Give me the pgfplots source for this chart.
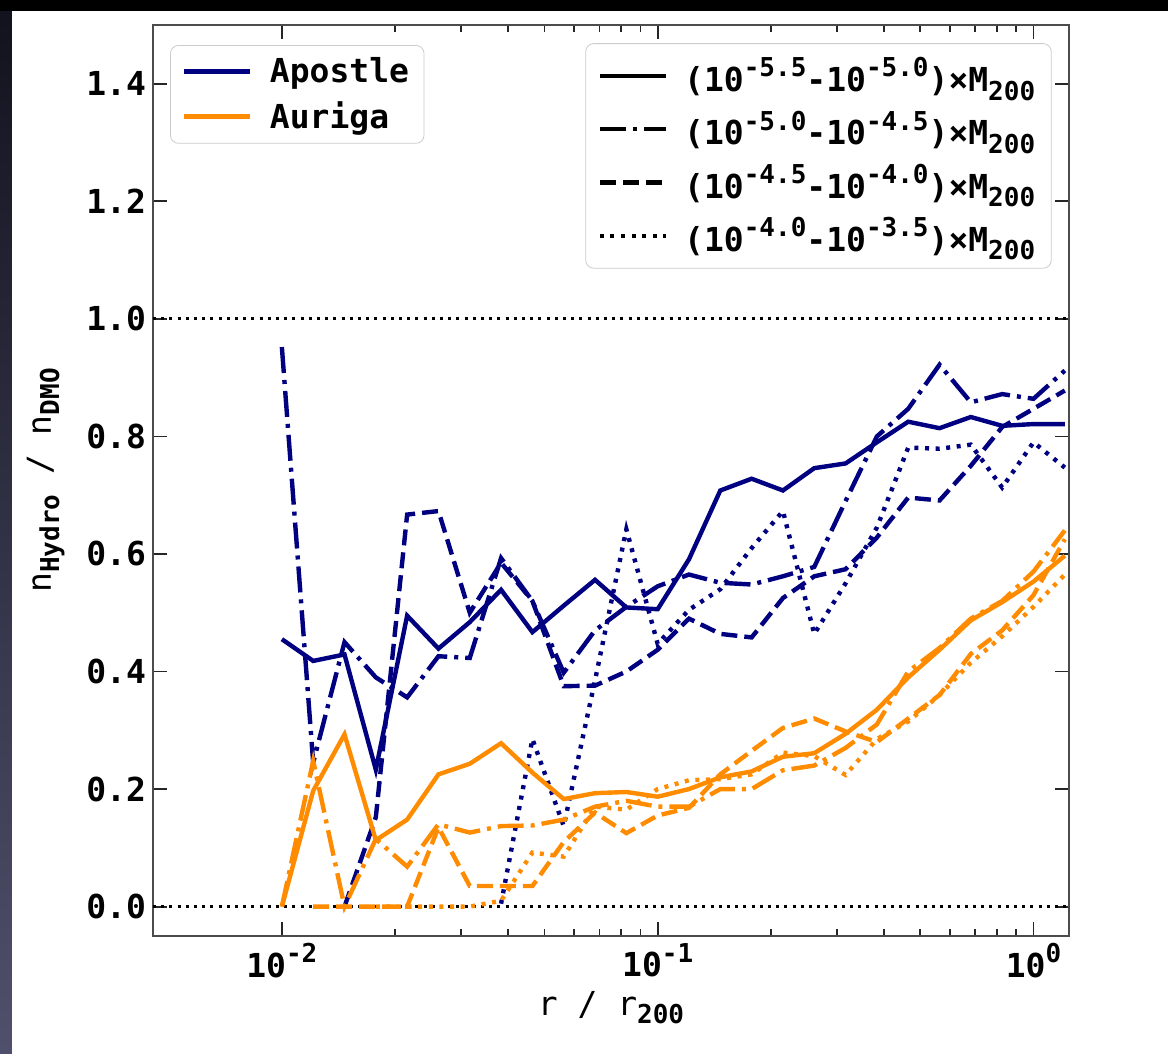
\documentclass[border=0pt]{standalone}
\usepackage{fontspec}
\setmainfont{DejaVu Sans Mono}
\usepackage{pgfplots}
\usepackage{pgfplotstable}
\pgfplotsset{compat=1.18}
\definecolor{apo}{RGB}{0,0,128}
\definecolor{aur}{RGB}{255,140,0}
\newcommand\bigf{\fontsize{16.5}{20}\selectfont}
\newcommand\supf[1]{\raisebox{0.45em}{\fontsize{13}{14}\selectfont #1}}
\newcommand\subf[1]{\raisebox{-0.25em}{\fontsize{13}{14}\selectfont #1}}
\tikzset{
  ls solid/.style={solid},
  ls dashdot/.style={dash pattern=on 13pt off 3.5pt on 2pt off 3.5pt},
  ls dashed/.style={dash pattern=on 8pt off 3.5pt},
  ls dotted/.style={dash pattern=on 2pt off 3.3pt},
}

% r/r200, Apostle (ap1..ap4) and Auriga (au1..au4) per mass bin
\pgfplotstableread{
r        ap1   ap2   ap3   ap4   au1   au2   au3   au4
0.010000 0.455 0.952 nan   nan   0.000 0.000 nan   nan
0.012115 0.418 0.245 nan   nan   0.197 0.248 0.000 nan
0.014678 0.429 0.450 0.000 nan   0.293 0.000 0.000 nan
0.017783 0.233 0.390 0.152 nan   0.113 0.115 0.000 0.000
0.021544 0.495 0.356 0.667 nan   0.148 0.068 0.000 0.000
0.026102 0.439 0.426 0.673 nan   0.225 0.140 0.135 0.000
0.031623 0.484 0.423 0.500 nan   0.243 0.126 0.035 0.000
0.038312 0.539 0.593 0.585 0.005 0.278 0.137 0.035 0.010
0.046416 0.467 0.520 0.520 0.285 0.228 0.138 0.035 0.092
0.056234 0.512 0.398 0.375 0.137 0.183 0.148 0.110 0.085
0.068129 0.556 0.470 0.376 0.385 0.193 0.170 0.160 0.170
0.082540 0.509 0.510 0.400 0.642 0.195 0.180 0.125 0.165
0.100000 0.506 0.545 0.437 0.447 0.187 0.170 0.155 0.200
0.121150 0.591 0.565 0.490 0.505 0.200 0.170 0.168 0.215
0.146780 0.708 0.551 0.464 0.540 0.220 0.200 0.225 0.217
0.177830 0.728 0.548 0.458 0.610 0.230 0.200 0.265 0.225
0.215440 0.708 0.562 0.525 0.673 0.255 0.232 0.304 0.262
0.261020 0.746 0.578 0.562 0.464 0.261 0.240 0.320 0.256
0.316230 0.754 0.690 0.574 0.550 0.294 0.270 0.298 0.224
0.383120 0.790 0.800 0.628 0.645 0.335 0.310 0.280 0.285
0.464160 0.825 0.847 0.696 0.781 0.390 0.400 0.320 0.315
0.562340 0.814 0.922 0.691 0.779 0.437 0.440 0.360 0.360
0.681290 0.833 0.858 0.750 0.786 0.487 0.490 0.430 0.415
0.825400 0.818 0.872 0.816 0.713 0.518 0.520 0.470 0.460
1.000000 0.821 0.864 0.847 0.790 0.553 0.570 0.530 0.510
1.211500 0.821 0.912 0.878 0.747 0.597 0.640 0.625 0.565
}\data

\begin{document}
\begin{tikzpicture}
% page background with the dark screenshot edge
\fill[white] (-76.5pt,-59pt) rectangle (507.5pt,468pt);
\shade[top color={rgb,255:red,18;green,18;blue,30}, bottom color={rgb,255:red,80;green,80;blue,108}]
  (-76.5pt,-59pt) rectangle (-70.5pt,468pt);
\fill[black] (-76.5pt,462.5pt) rectangle (507.5pt,468pt);

\begin{axis}[
  at={(0,0)}, anchor=south west,
  scale only axis, width=458pt, height=455.5pt,
  xmode=log, xmin=0.00454, xmax=1.243, ymin=-0.05, ymax=1.5,
  axis line style={black!70, line width=1.2pt},
  tick style={black!85, line width=0.9pt},
  major tick length=7pt, minor tick length=3.5pt,
  tick pos=both, tick align=inside,
  xtick={0.01,0.1,1},
  xticklabels={10\supf{-2},10\supf{-1},10\supf{0}},
  ytick={0,0.2,0.4,0.6,0.8,1.0,1.2,1.4},
  yticklabels={0.0,0.2,0.4,0.6,0.8,1.0,1.2,1.4},
  tick label style={font=\bigf\bfseries},
  xlabel={r / r\subf{\bfseries 200}},
  ylabel={n\subf{\bfseries Hydro} / n\subf{\bfseries DMO}},
  ylabel style={yshift=4pt},
  label style={font=\bigf},
  legend cell align=left,
  legend image code/.code={\draw[#1, line width=2.1pt] (0pt,0pt) -- (33pt,0pt); \path (41pt,0pt);},
  legend style={at={(0.0186,0.978)}, anchor=north west,
    draw=black!20, rounded corners=4pt, fill=white, fill opacity=0.8, text opacity=1,
    font=\bigf\bfseries, row sep=4pt, inner xsep=5.5pt, inner ysep=4pt},
]
\addplot[black, line width=1.5pt, dash pattern=on 1.5pt off 2.6pt, forget plot] coordinates {(0.00454,1) (1.243,1)};
\addplot[black, line width=1.5pt, dash pattern=on 1.5pt off 2.6pt, forget plot] coordinates {(0.00454,0) (1.243,0)};

\addplot[apo, line width=2.2pt, ls solid, forget plot] table[x=r, y=ap1] {\data};
\addplot[apo, line width=2.2pt, ls dashdot, forget plot] table[x=r, y=ap2] {\data};
\addplot[apo, line width=2.2pt, ls dashed, forget plot] table[x=r, y=ap3] {\data};
\addplot[apo, line width=2.2pt, ls dotted, forget plot] table[x=r, y=ap4] {\data};
\addplot[aur, line width=2.2pt, ls solid, forget plot] table[x=r, y=au1] {\data};
\addplot[aur, line width=2.2pt, ls dashdot, forget plot] table[x=r, y=au2] {\data};
\addplot[aur, line width=2.2pt, ls dashed, forget plot] table[x=r, y=au3] {\data};
\addplot[aur, line width=2.2pt, ls dotted, forget plot] table[x=r, y=au4] {\data};

\addlegendimage{apo, solid}
\addlegendentry{Apostle}
\addlegendimage{aur, solid}
\addlegendentry{Auriga}
\end{axis}

% second legend: line styles for the mass bins
\begin{axis}[
  at={(0,0)}, anchor=south west,
  scale only axis, width=458pt, height=455.5pt,
  xmin=0, xmax=1, ymin=0, ymax=1,
  hide axis,
  legend cell align=left,
  legend image code/.code={\draw[#1, line width=2.1pt] (0pt,0pt) -- (33pt,0pt); \path (40pt,0pt);},
  legend style={at={(0.981,0.980)}, anchor=north east,
    draw=black!20, rounded corners=4pt, fill=white, fill opacity=0.8, text opacity=1,
    font=\bigf\bfseries, row sep=4pt, inner xsep=6pt, inner ysep=5pt},
]
\addlegendimage{black, ls solid}
\addlegendentry{(10\supf{-5.5}-10\supf{-5.0})×M\subf{200}}
\addlegendimage{black, ls dashdot}
\addlegendentry{(10\supf{-5.0}-10\supf{-4.5})×M\subf{200}}
\addlegendimage{black, ls dashed}
\addlegendentry{(10\supf{-4.5}-10\supf{-4.0})×M\subf{200}}
\addlegendimage{black, ls dotted}
\addlegendentry{(10\supf{-4.0}-10\supf{-3.5})×M\subf{200}}
\end{axis}
\end{tikzpicture}
\end{document}
